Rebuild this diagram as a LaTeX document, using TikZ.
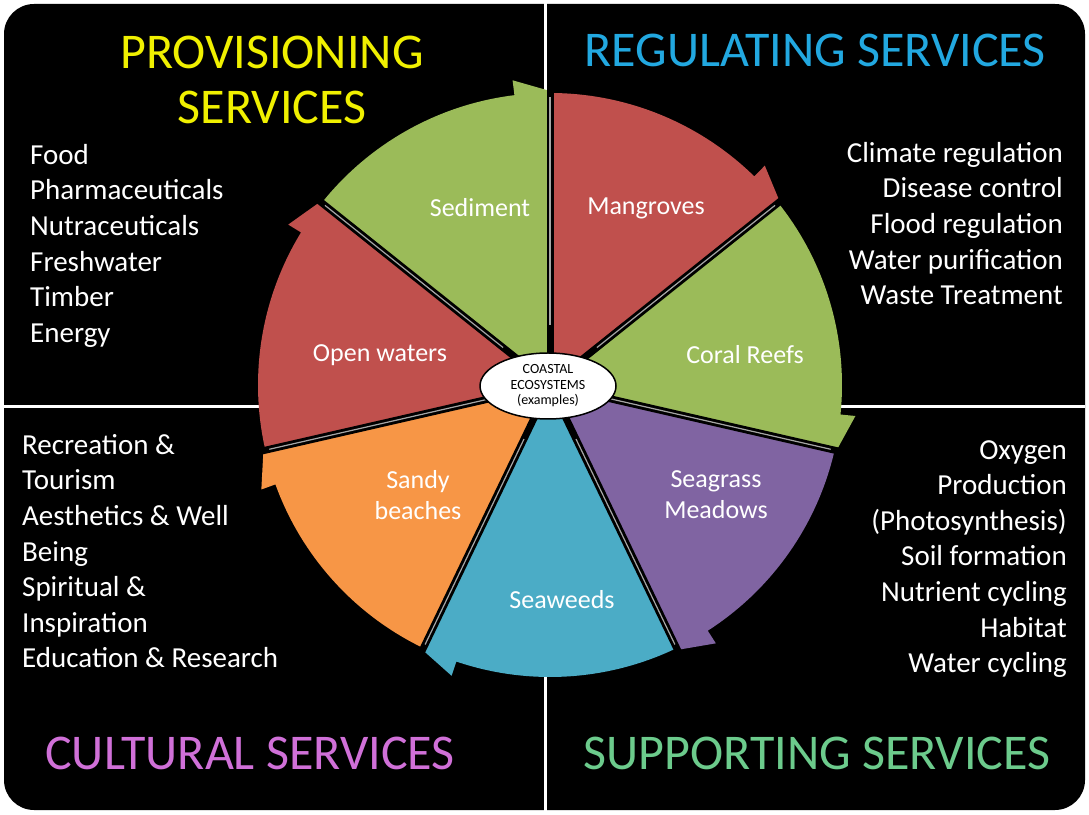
\documentclass[tikz,border=0pt]{standalone}
\usepackage{fontspec}
\setmainfont{Carlito}
\usetikzlibrary{positioning, calc, shapes.geometric}
\definecolor{segGreen}{HTML}{9BBB59}
\definecolor{segRed}{HTML}{C0504D}
\definecolor{segPurple}{HTML}{8064A2}
\definecolor{segCyan}{HTML}{4BACC6}
\definecolor{segOrange}{HTML}{F79646}
\definecolor{headYellow}{HTML}{F0F000}
\definecolor{headBlue}{HTML}{22A8E0}
\definecolor{headPink}{HTML}{D070D8}
\definecolor{headGreen}{HTML}{6CCB8C}
\begin{document}
\begin{tikzpicture}[
    x=1pt, y=1pt,
    heading/.style={font=\fontsize{50}{55}\selectfont, align=center},
    service/.style={text=white, font=\fontsize{29}{35.6}\selectfont, inner sep=0pt},
    seglabel/.style={text=white, font=\fontsize{26}{31}\selectfont, align=center}
]
    \useasboundingbox (0,0) rectangle (1089,814);
    % Background and quadrant lines
    \fill[white] (0,0) rectangle (1089,814);
    \fill[black, rounded corners=30pt] (4,4) rectangle (1085,810);
    \draw[white, line width=3pt] (545,0) -- (545,814);
    \draw[white, line width=3pt] (4,407) -- (1085,407);

    % Wheel segments
    \coordinate (hub) at (550,429);
    \foreach \s/\col in {141.4/segGreen, 90/segRed, 38.6/segGreen, -12.9/segPurple,
                         -64.3/segCyan, -115.7/segOrange, -167.1/segRed}{
        \pgfmathsetmacro{\e}{\s-51.4}
        \pgfmathsetmacro{\ee}{\s-44.4}
        \fill[\col] (hub) -- ++(\s:292) arc[start angle=\s, end angle=\ee, radius=292]
            -- ($(hub)+(\ee:307)$) -- ($(hub)+(\e:294)$) -- cycle;
    }
    \foreach \s in {141.4, 90, 38.6, -12.9, -64.3, -115.7, -167.1}{
        \draw[black, line width=7pt] (hub) -- ++(\s:300);
        \draw[gray!70, line width=1.2pt] ($(hub)+(\s:60)$) -- ++(\s:228);
    }

    % Centre
    \node[ellipse, draw=black, fill=white, line width=1.5pt, minimum width=136pt, minimum height=66pt,
          inner sep=1pt, align=center, font=\fontsize{14}{15.5}\selectfont] (centre) at (548,428)
          {COASTAL\\ECOSYSTEMS\\(examples)};

    % Segment labels
    \node[seglabel] (sediment) at (480,606) {Sediment};
    \node[seglabel] (mangroves) at (646,606) {Mangroves};
    \node[seglabel] (openwaters) at (380,459) {Open waters};
    \node[seglabel] (coralreefs) at (745,459) {Coral Reefs};
    \node[seglabel] (sandy) at (418,319) {Sandy\\beaches};
    \node[seglabel] (seagrass) at (716,319) {Seagrass\\Meadows};
    \node[seglabel] (seaweeds) at (562,214) {Seaweeds};

    % Headings
    \node[heading, text=headYellow] (prov) at (272,734) {PROVISIONING\\SERVICES};
    \node[heading, text=headBlue] (reg) at (815,764) {REGULATING SERVICES};
    \node[heading, text=headPink] (cult) at (250,61) {CULTURAL SERVICES};
    \node[heading, text=headGreen] (supp) at (817,61) {SUPPORTING SERVICES};

    % Service lists
    \node[service, align=left, anchor=north west] (provlist) at (30,670)
        {Food\\Pharmaceuticals\\Nutraceuticals\\Freshwater\\Timber\\Energy};
    \node[service, align=right, anchor=north east] (reglist) at (1063,672)
        {Climate regulation\\Disease control\\Flood regulation\\Water purification\\Waste Treatment};
    \node[service, align=left, anchor=north west] (cultlist) at (22,380)
        {Recreation \&\\Tourism\\Aesthetics \& Well\\Being\\Spiritual \&\\Inspiration\\Education \& Research};
    \node[service, align=right, anchor=north east] (supplist) at (1067,374)
        {Oxygen\\Production\\(Photosynthesis)\\Soil formation\\Nutrient cycling\\Habitat\\Water cycling};
\end{tikzpicture}
\end{document}
